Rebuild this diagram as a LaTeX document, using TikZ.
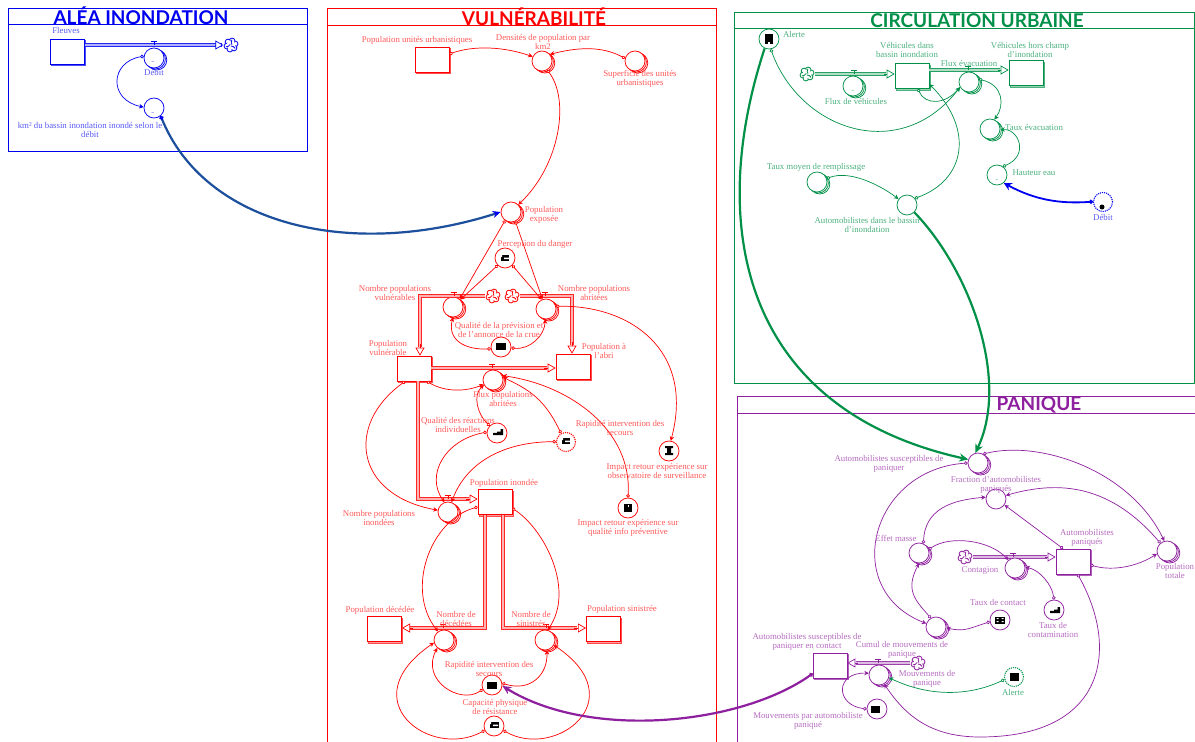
\documentclass[tikz,border=0pt]{standalone}
\usepackage{fontspec}
\setmainfont{Liberation Serif}
\newfontfamily\ttl{Lato}
\usetikzlibrary{arrows.meta,shadows}
\definecolor{cblue}{HTML}{0000F0}
\definecolor{cred}{HTML}{FF0000}
\definecolor{cgreen}{HTML}{009048}
\definecolor{cpurple}{HTML}{8E1F9E}
\definecolor{navy}{HTML}{1C4F9C}
\colorlet{cc}{cblue}
\colorlet{lc}{cblue!65}
\tikzset{
 x=1pt,y=1pt,
 panel/.style={draw=cc,line width=.7pt},
 ttlnode/.style={text=cc,font=\ttl\bfseries\fontsize{19}{20}\selectfont,inner sep=0},
 conv/.style={circle,draw=cc,fill=white,minimum size=20pt,inner sep=0,line width=.75pt},
 stacked/.style={conv,double copy shadow={shadow xshift=1.4pt,shadow yshift=-1pt,draw=cc,fill=white}},
 ghost/.style={circle,draw=cc,fill=white,minimum size=19pt,inner sep=0,line width=1.1pt,densely dotted},
 stockn/.style={rectangle,draw=cc,fill=white,minimum width=34pt,minimum height=25pt,inner sep=0,line width=.7pt,
   copy shadow={shadow xshift=1.2pt,shadow yshift=-1.4pt,draw=cc!70,fill=cc!40}},
 cloudn/.style={circle,draw=none,minimum size=15pt,inner sep=0},
 flow/.style={preaction={draw=cc!85,line width=3.4pt},draw=cc!30,line width=1.7pt},
 fhead/.style={draw=cc,line width=.7pt,-{Triangle[open,length=8pt,width=9pt,fill=white]}},
 conn/.style={draw=cc,line width=.7pt,{Circle[open,fill=white,length=3.6pt,width=3.6pt]}-{Stealth[length=4.5pt,width=4.5pt]}},
 bigc/.style={line width=2.2pt,-{Stealth[length=9pt,width=8pt]}},
 lbl/.style={text=lc,font=\fontsize{8.8}{9}\selectfont,align=center,inner sep=0},
 tilde/.style={text=cc,font=\fontsize{5}{5}\selectfont,inner sep=0},
 ico/.style={fill=black,draw=none,rectangle,inner sep=0},
}
\newcommand\valve[2]{\draw[cc,line width=.7pt] (#1-3,#2+3.5)--(#1+3,#2+3.5) (#1,#2+3.5)--(#1,#2);}
\newcommand\swirl[1]{%
  \foreach \a in {0,60,...,300}{\draw[cc,fill=white,line width=.8pt] (#1.center)+(\a+15:4.2) circle (2.9);}
  \fill[white] (#1.center) circle (4.6);
  \foreach \a in {20,140,260}{\draw[cc,line width=.8pt] (#1.center)+(\a:1) to[bend left=30] +(\a+60:5.4);}
}
\newcommand\icon[4]{\node[ico,minimum width=#3pt,minimum height=#4pt] at (#1,#2) {};}
% stair icon centred on x,y
\newcommand\stairs[2]{\fill[black] (#1-5,#2-3)--(#1+5,#2-3)--(#1+5,#2+3)--(#1+2.5,#2+3)--(#1+2.5,#2+.5)--(#1-1,#2+.5)--(#1-1,#2-.8)--(#1-5,#2-.8)--cycle;}
\newcommand\cuts[2]{\fill[white] (#1-1,#2-1) rectangle (#1+4.2,#2+.3) (#1-4.2,#2+.8) rectangle (#1-3,#2+3.2);}
\begin{document}
\begin{tikzpicture}
\useasboundingbox (0,0) rectangle (1195,-742);
\fill[white] (0,0) rectangle (1195,-742);

%% ---------- ALEA
\begin{scope}
\colorlet{cc}{cblue}\colorlet{lc}{cblue!65}
\draw[panel] (8,-8) rectangle (307,-151) (8,-24)--(307,-24);
\node[ttlnode] (tA) at (141,-15.5) {ALÉA INONDATION};
\node[stockn] (fleuves) at (67.5,-51.5) {};
\node[cloudn] (cA) at (231,-45) {}; \swirl{cA}
\draw[flow] (fleuves.east|-0,-45) -- (222,-45);
\draw[fhead] (218,-45) -- (cA.west);
\valve{154}{-45}
\node[stacked] (deb) at (154,-58) {};
\node[conv] (km) at (154,-108) {};
\node[tilde] at (153,-62) {\textasciitilde};
\node[tilde] at (153,-113) {\textasciitilde};
\draw[conn] (deb.170) .. controls (110,-62) and (108,-100) .. (km.175);
\node[lbl] (l1) at (66,-30) {Fleuves};
\node[lbl] (l2) at (154,-72.5) {Débit};
\node[lbl] (l3) at (90,-130) {km² du bassin inondation inondé selon le\\débit};
\end{scope}

%% ---------- VULNERABILITE
\begin{scope}
\colorlet{cc}{cred}\colorlet{lc}{cred!65}
\draw[panel] (327,-742)--(327,-8)--(716,-8)--(716,-742) (327,-25)--(716,-25);
\node[ttlnode] (tV) at (534,-17) {VULNÉRABILITÉ};
\node[stockn] (pu) at (432,-59.5) {};
\node[stacked] (dens) at (542,-61) {};
\node[stacked] (sup) at (635,-61) {};
\node[stacked] (pe) at (511,-212) {};
\node[conv] (perc) at (505,-258) {}; \icon{505}{-258}{8}{6} \cuts{505}{-258}
\node[stacked] (nv) at (453,-307) {};
\node[stacked] (na) at (546,-309) {};
\node[cloudn] (c1) at (493,-296) {};
\node[cloudn] (c2) at (512,-296) {};
\node[conv] (qual) at (501,-347) {}; \icon{501}{-346}{10}{7}
\node[stockn] (pv) at (414,-368.5) {};
\node[stockn] (pab) at (573,-366.5) {};
% flows
\draw[flow] (c1.west) -- (420,-296) -- (420,-347);
\draw[fhead] (420,-344) -- (pv.north-|420,0);
\draw[flow] (c2.east) -- (572,-296) -- (572,-345);
\draw[fhead] (572,-342) -- (pab.north-|572,0);
\draw[flow] (pv.east|-0,-368) -- (547,-368);
\draw[fhead] (544,-368) -- (pab.west|-0,-368);
\swirl{c1}\swirl{c2}
\valve{492}{-368}\valve{454}{-296}\valve{545}{-296}
\node[stacked] (fp) at (493,-380) {};
\node[conv] (qr) at (497,-433) {}; \stairs{498}{-432}
\node[ghost] (rap) at (566,-442) {}; \icon{566}{-441}{8}{6} \cuts{566}{-441}
\node[conv] (iobs) at (669,-451) {}; \fill[black] (665,-446) rectangle (673,-448) (667,-448) rectangle (671,-453) (665,-453) rectangle (673,-455);
\node[conv] (iinf) at (628,-508) {}; \icon{628}{-508}{8}{8} \fill[white] (627.5,-505) rectangle (629,-506.5);
\node[stacked] (ni) at (448,-512) {};
\node[stockn] (pi) at (495,-502) {};
\draw[flow] (418,-381) -- (418,-499) -- (469,-499);
\draw[fhead] (466,-499) -- (pi.west|-0,-499);
\draw[flow] (485,-515) -- (485,-628) -- (410,-628);
\draw[fhead] (413,-628) -- (402,-628);
\draw[flow] (503,-515) -- (503,-628) -- (577,-628);
\draw[fhead] (574,-628) -- (586,-628);
\valve{448}{-499}\valve{443}{-628}\valve{546}{-628}
\node[stockn] (pd) at (384,-629) {};
\node[stockn] (ps) at (603,-629) {};
\node[stacked] (nd) at (444,-640) {};
\node[stacked] (ns) at (545,-640) {};
\node[conv] (rap2) at (492,-685) {}; \icon{492}{-685}{10}{7}
\node[conv] (cap) at (494,-726) {}; \icon{494}{-725}{9}{6} \cuts{494}{-725}
% connectors
\draw[conn] (pu.east|-0,-54) .. controls (475,-45) and (505,-47) .. (dens.155);
\draw[conn] (sup.165) .. controls (600,-45) and (575,-48) .. (dens.40);
\draw[conn] (dens.-60) .. controls (570,-100) and (560,-165) .. (pe.45);
\draw[conn] (pe.235) -- (nv.50);
\draw[conn] (pe.-65) -- (na.110);
\draw[conn] (perc.225) -- (nv.45);
\draw[conn] (perc.-45) -- (na.115);
\draw[conn] (qual.190) .. controls (465,-350) and (447,-340) .. (nv.-90);
\draw[conn] (qual.-5) .. controls (530,-350) and (545,-335) .. (na.-95);
\draw[conn] (pv.-45) .. controls (445,-392) and (465,-392) .. (fp.205);
\draw[conn] (na.15) .. controls (630,-305) and (695,-350) .. (iobs.80);
\draw[conn] (iinf.90) .. controls (632,-430) and (570,-385) .. (fp.25);
\draw[conn] (qr.135) .. controls (478,-415) and (472,-395) .. (fp.210);
\draw[conn] (rap.120) .. controls (545,-400) and (530,-390) .. (fp.15);
\draw[conn] (qr.175) .. controls (445,-440) and (425,-475) .. (ni.110);
\draw[conn] (rap.178) .. controls (500,-442) and (465,-465) .. (ni.70);
\draw[conn] (pv.-125) .. controls (345,-425) and (355,-495) .. (ni.170);
\draw[conn] (pi.west|-0,-507) .. controls (430,-520) and (405,-590) .. (nd.125);
\draw[conn] (pi.-20) .. controls (545,-530) and (575,-590) .. (ns.75);
\draw[conn] (rap2.205) .. controls (460,-705) and (420,-680) .. (nd.-130);
\draw[conn] (rap2.10) .. controls (530,-692) and (548,-675) .. (ns.-80);
\draw[conn] (cap.205) .. controls (430,-760) and (350,-700) .. (nd.-165);
\draw[conn] (cap.-25) .. controls (555,-760) and (635,-700) .. (ns.-30);
% labels
\node[lbl] (l) at (417,-40) {Population unités urbanistiques};
\node[lbl] at (543,-42) {Densités de population par\\km2};
\node[lbl] at (640,-79) {Superficie des unités\\urbanistiques};
\node[lbl] at (544,-214.5) {Population\\exposée};
\node[lbl] at (535,-244) {Perception du danger};
\node[lbl] at (395,-293) {Nombre populations\\vulnérables};
\node[lbl] at (594,-293) {Nombre populations\\abritées};
\node[lbl] at (499,-330) {Qualité de la prévision et\\de l'annonce de la crue};
\node[lbl] at (388,-348) {Population\\vulnérable};
\node[lbl] at (604,-351) {Population à\\l'abri};
\node[lbl] at (503,-399) {Flux populations\\abritées};
\node[lbl] at (458,-425) {Qualité des réactions\\individuelles};
\node[lbl] at (620,-428) {Rapidité intervention des\\secours};
\node[lbl] at (657,-470.5) {Impact retour expérience sur\\observatoire de surveillance};
\node[lbl] at (628,-527.5) {Impact retour expérience sur\\qualité info préventive};
\node[lbl] at (504,-483) {Population inondée};
\node[lbl] at (379,-517.5) {Nombre populations\\inondées};
\node[lbl] at (380,-610) {Population décédée};
\node[lbl] at (622,-609) {Population sinistrée};
\node[lbl] at (456,-618.5) {Nombre de\\décédées};
\node[lbl] at (531,-618.5) {Nombre de\\sinistrés};
\node[lbl] at (489,-668.5) {Rapidité intervention des\\secours};
\node[lbl] at (495,-706.5) {Capacité physique\\de résistance};
\end{scope}

%% ---------- CIRCULATION
\begin{scope}
\colorlet{cc}{cgreen}\colorlet{lc}{cgreen!70}
\draw[panel] (734,-12) rectangle (1194.5,-383) (734,-28)--(1194.5,-28);
\node[ttlnode] (tC) at (977,-21) {CIRCULATION URBAINE};
\node[conv] (al) at (769,-39) {}; \fill[black] (765,-34) rectangle (773,-44); \fill[white] (768,-42) rectangle (770,-44);
\node[cloudn] (c3) at (807,-74) {};
\node[stockn] (vb) at (912,-76) {};
\node[stockn] (vh) at (1026,-73) {};
\draw[flow] (c3.east) -- (886,-74);
\draw[fhead] (884,-74) -- (vb.west|-0,-74);
\draw[flow] (vb.east|-0,-70) -- (1000,-70);
\draw[fhead] (998,-70) -- (vh.west|-0,-70);
\swirl{c3}
\valve{854}{-74}\valve{968}{-70}
\node[stacked] (fv) at (853,-86) {};
\node[tilde] at (853,-91) {\textasciitilde};
\node[stacked] (fe) at (969,-82) {};
\node[stacked] (te) at (990,-129) {};
\node[conv] (he) at (997,-175) {};
\node[tilde] at (997,-180) {\textasciitilde};
\node[stacked] (tm) at (817,-182) {};
\node[conv] (am) at (907,-205) {};
\draw[conn] (al.-80) .. controls (800,-130) and (900,-165) .. (fe.-150);
\draw[conn] (vb.-65) .. controls (925,-105) and (945,-105) .. (fe.-150);
\draw[conn] (am.40) .. controls (965,-180) and (975,-130) .. (vb.-25);
\draw[conn] (fe.15) .. controls (1003,-85) and (1005,-105) .. (te.65);
\draw[conn] (he.55) .. controls (1030,-155) and (1018,-128) .. (te.-5);
\draw[conn] (tm.20) .. controls (850,-170) and (880,-185) .. (am.145);
\node[lbl] at (794,-34) {Alerte};
\node[lbl] at (907,-49.5) {Véhicules dans\\bassin inondation};
\node[lbl] at (1030,-49.5) {Véhicules hors champ\\d'inondation};
\node[lbl] at (969,-63) {Flux évacuation};
\node[lbl] at (856,-101) {Flux de véhicules};
\node[lbl] at (1034,-127) {Taux évacuation};
\node[lbl] at (1034,-173) {Hauteur eau};
\node[lbl] at (816,-167) {Taux moyen de remplissage};
\node[lbl] at (867,-224.5) {Automobilistes dans le bassin\\d'inondation};
\end{scope}

%% ---------- PANIQUE
\begin{scope}
\colorlet{cc}{cpurple}\colorlet{lc}{cpurple!65}
\draw[panel] (737,-742)--(737,-396)--(1195,-396) (737,-413)--(1195,-413);
\node[ttlnode] (tP) at (1039,-404.5) {PANIQUE};
\node[stacked] (fr1) at (978,-463) {};
\node[conv] (fr2) at (996,-499) {};
\node[stacked] (em) at (919,-553) {};
\node[cloudn] (c4) at (965,-557) {};
\node[stockn] (ap) at (1073,-561.5) {};
\draw[flow] (c4.east) -- (1047,-557);
\draw[fhead] (1045,-557) -- (ap.west|-0,-557);
\swirl{c4}
\valve{1013}{-557}
\node[stacked] (cont) at (1015,-568) {};
\node[stacked] (ptot) at (1167,-551) {};
\node[conv] (tcont) at (1000,-620) {}; \icon{1000}{-620}{10}{7} \fill[white] (996.5,-618) rectangle (998.5,-619) (1001.5,-618) rectangle (1003.5,-619) (996.5,-621) rectangle (998.5,-622) (1001.5,-621) rectangle (1003.5,-622);
\node[conv] (tcam) at (1054,-610) {}; \stairs{1055}{-610}
\node[stacked] (bot) at (936,-627) {};
\node[stockn] (ac) at (830,-665.5) {};
\node[cloudn] (c5) at (918,-663) {};
\draw[flow] (c5.west) -- (856,-663);
\draw[fhead] (858,-663) -- (ac.east|-0,-663);
\swirl{c5}
\valve{878}{-663}
\node[stacked] (cu) at (879,-675) {};
\node[conv] (mp) at (877,-709) {}; \icon{875}{-709}{9}{7}
\draw[conn] (fr1.180) .. controls (870,-470) and (840,-590) .. (bot.160);
\draw[conn] (fr1.60) .. controls (1040,-440) and (1130,-470) .. (ptot.105);
\draw[conn] (ptot.130) .. controls (1110,-485) and (1060,-480) .. (fr2.20);
\draw[conn] (ap.north-|1063,0) -- (fr2.-35);
\draw[conn] (em.65) .. controls (925,-510) and (950,-500) .. (fr2.170);
\draw[conn] (em.20) .. controls (950,-535) and (990,-540) .. (cont.130);
\draw[conn] (bot.120) .. controls (915,-600) and (905,-590) .. (em.-90);
\draw[conn] (tcam.90) .. controls (1052,-585) and (1040,-570) .. (cont.5);
\draw[conn] (tcont.190) .. controls (970,-628) and (965,-632) .. (bot.-5);
\draw[conn] (ap.east|-0,-565) .. controls (1115,-572) and (1140,-565) .. (ptot.-165);
\draw[conn] (ap.-70) .. controls (1120,-650) and (1105,-737) .. (980,-737) .. controls (930,-737) and (905,-715) .. (cu.-60);
\draw[conn] (mp.180) .. controls (835,-705) and (835,-672) .. (cu.170);
\node[lbl] at (889,-463.5) {Automobilistes susceptibles de\\paniquer};
\node[lbl] at (996,-484.5) {Fraction d'automobilistes\\paniqués};
\node[lbl] at (896,-538) {Effet masse};
\node[lbl] at (980,-571) {Contagion};
\node[lbl] at (1087,-537.5) {Automobilistes\\paniqués};
\node[lbl] at (1175,-570.5) {Population\\totale};
\node[lbl] at (998,-602) {Taux de contact};
\node[lbl] at (1053,-629.5) {Taux de\\contamination};
\node[lbl] at (807,-641.5) {Automobilistes susceptibles de\\paniquer en  contact};
\node[lbl] at (902,-649.5) {Cumul de mouvements de\\panique};
\node[lbl] at (927,-678.5) {Mouvements de\\panique};
\node[lbl] at (808,-720.5) {Mouvements par automobiliste\\paniqué};
\end{scope}

%% ---------- ghosts and links across panels
\begin{scope}
\colorlet{cc}{cblue}\colorlet{lc}{cblue!65}
\node[ghost] (debg) at (1103,-202) {};
\fill[black] (1102,-207) circle (2.5);
\node[lbl] at (1103,-217) {Débit};
\draw[cc,{Circle[open,fill=white,length=4pt,width=4pt]}-{Stealth[length=8pt,width=8pt]},line width=1.8pt] (debg.178) .. controls (1060,-204) and (1035,-200) .. (he.-50);
\draw[navy,line width=2.2pt,{Circle[cc,length=4pt,width=4pt]}-{Stealth[cc,length=8pt,width=7pt]}] (km.-50) .. controls (205,-225) and (350,-260) .. (pe.180);
\end{scope}
\begin{scope}
\colorlet{cc}{cgreen}\colorlet{lc}{cgreen!70}
\node[ghost] (alg) at (1014,-677) {}; \icon{1014}{-677}{9}{8}
\node[lbl] at (1013,-692) {Alerte};
\draw[conn] (alg.195) .. controls (965,-698) and (925,-695) .. (cu.-15);
\draw[bigc,draw=cc] (al.-115) .. controls (705,-230) and (745,-410) .. (fr1.160);
\draw[bigc,draw=cc] (am.-45) .. controls (970,-270) and (1010,-380) .. (fr1.105);
\end{scope}
\begin{scope}
\colorlet{cc}{cpurple}
\draw[cc,line width=2.2pt,{Circle[open,fill=white,length=4pt,width=4pt]}-{Stealth[length=9pt,width=8pt]}] (ac.-155) .. controls (740,-725) and (590,-740) .. (rap2.-5);
\end{scope}
\end{tikzpicture}
\end{document}
